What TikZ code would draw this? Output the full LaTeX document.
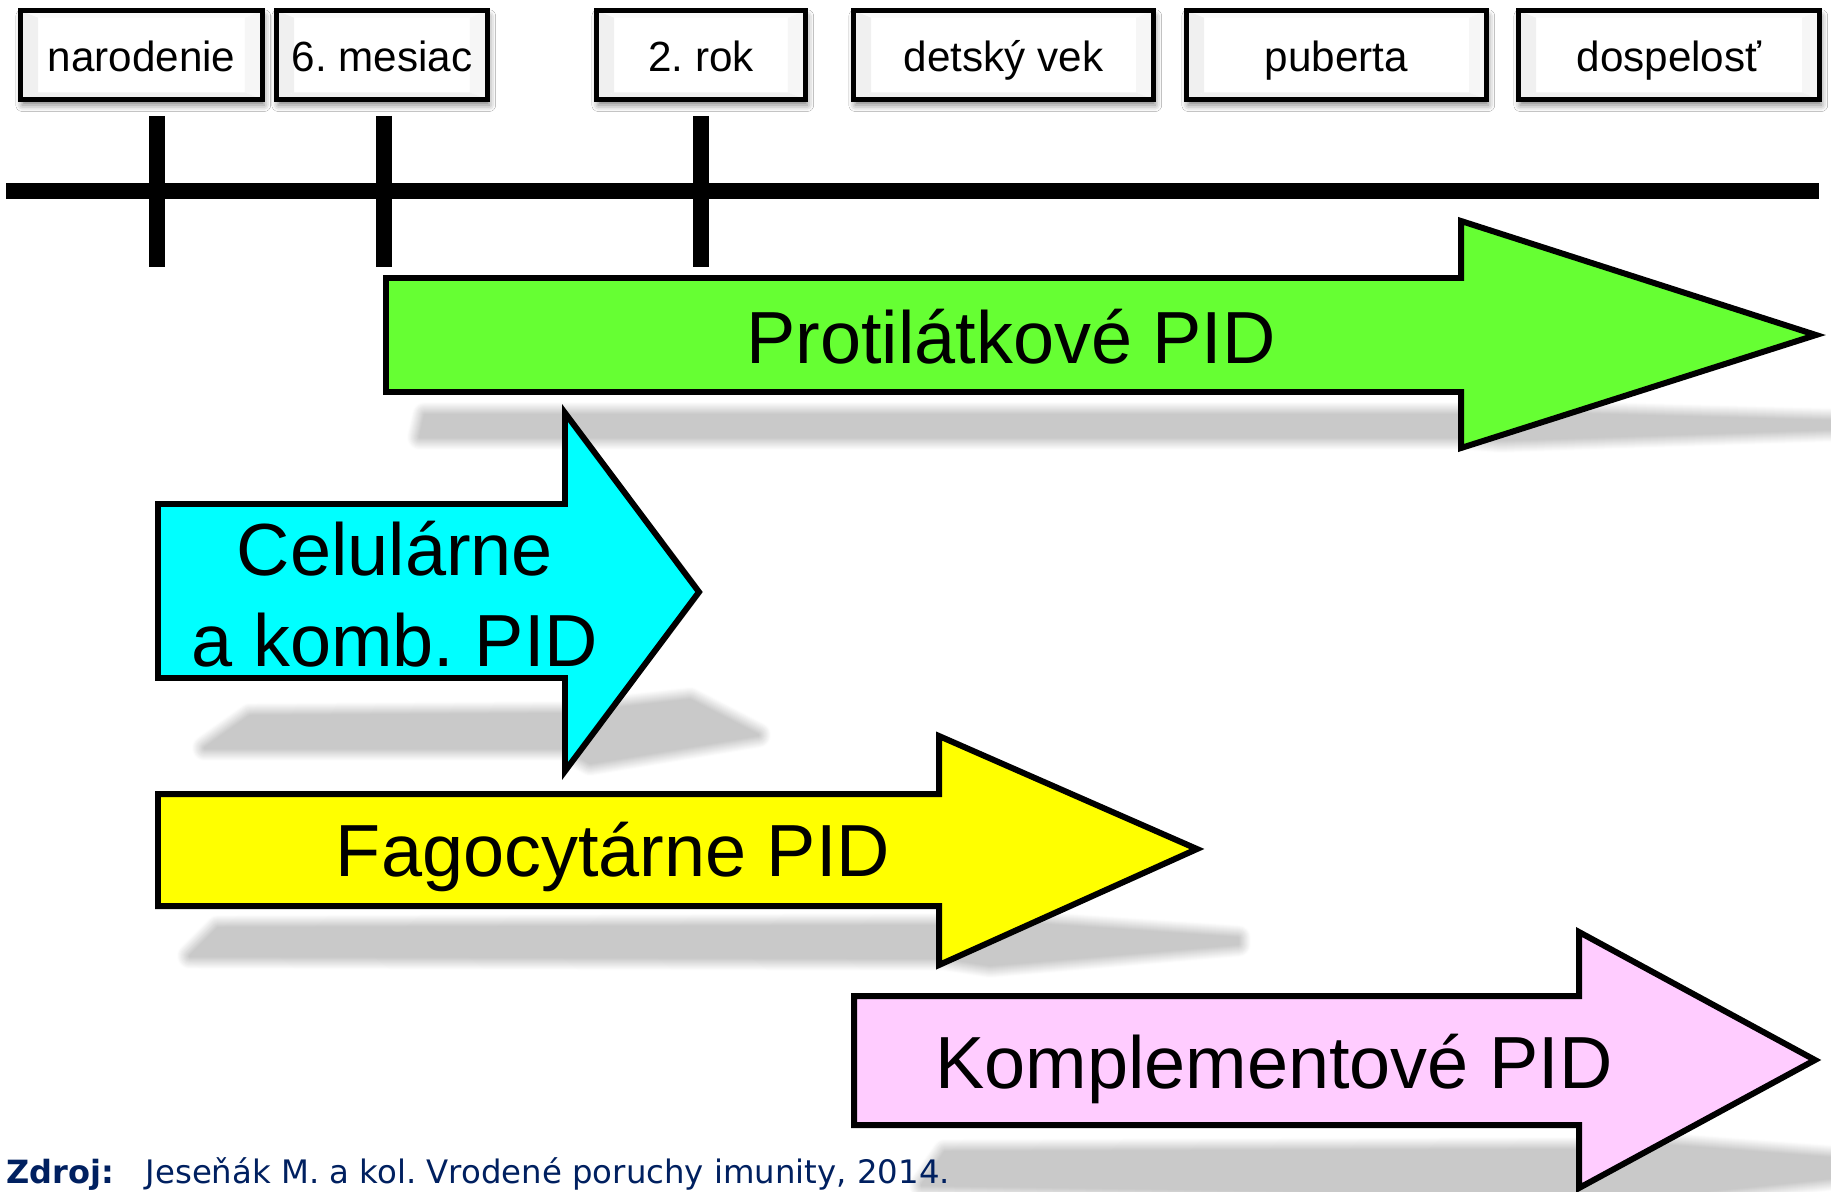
\documentclass[tikz,border=0pt]{standalone}
\usepackage{fontspec}
\setmainfont{Liberation Sans}
\newfontfamily\zdrojfont{DejaVu Sans}
\usetikzlibrary{shadows.blur,positioning}
\frenchspacing

\definecolor{protiGreen}{HTML}{66FF33}
\definecolor{celCyan}{HTML}{00FFFF}
\definecolor{fagoYellow}{HTML}{FFFF00}
\definecolor{komplPink}{HTML}{FFCCFF}
\definecolor{zdrojBlue}{HTML}{002060}

\tikzset{
  agebox/.style={draw=black, line width=1.4pt, fill=white, minimum height=0.89cm, inner sep=0pt,
    font=\fontsize{12}{14}\selectfont, text height=1.05em, text depth=0.1em,
    blur shadow={shadow xshift=0.5pt, shadow yshift=-1.6pt, shadow blur radius=1.8pt, shadow opacity=50},
    path picture={
      \fill[gray!12] (path picture bounding box.south west) -- ++(5pt,2pt) |- ([shift={(5pt,-2pt)}]path picture bounding box.north west) -- (path picture bounding box.north west) -- cycle;
      \fill[gray!7] (path picture bounding box.south east) -- ++(-5pt,2pt) |- ([shift={(-5pt,-2pt)}]path picture bounding box.north east) -- (path picture bounding box.north east) -- cycle;
      \fill[gray!4] (path picture bounding box.north west) -- ++(5pt,-2pt) -| ([shift={(-5pt,-2pt)}]path picture bounding box.north east) -- (path picture bounding box.north east) -- cycle;
      \fill[gray!12] (path picture bounding box.south west) -- ++(5pt,2pt) -| ([shift={(-5pt,2pt)}]path picture bounding box.south east) -- (path picture bounding box.south east) -- cycle;
    }},
  osline/.style={line width=4.5pt},
  tickmark/.style={line width=4.6pt},
  pidarrow/.style={draw=black, line width=1.7pt, line join=miter},
  pidtext/.style={font=\fontsize{21}{25.8}\selectfont, align=center, inner sep=0pt},
  zdrojtext/.style={anchor=base west, inner sep=0pt, text=zdrojBlue, font=\fontsize{9.2}{11}\zdrojfont}
}

% soft shadow on the floor under an arrow
\newcommand\floorshadow[1]{%
  \foreach \w [evaluate=\w as \c using 23-0.85*\w] in {26,24,...,2}
    \draw[black!\c, line width=\w*0.2834pt, line join=round] #1;
  \fill[black!21] #1;
}

\begin{document}
\begin{tikzpicture}[x=0.01cm,y=-0.01cm]
\fill[white] (0,0) rectangle (1831,1191);
\useasboundingbox (0,0) rectangle (1831,1191);

% age labels
\node[agebox, minimum width=2.42cm] (narodenie) at (141.5,55) {narodenie};
\node[agebox, minimum width=2.11cm] (mesiac) at (382,55) {6. mesiac};
\node[agebox, minimum width=2.09cm] (rok) at (701,55) {2. rok};
\node[agebox, minimum width=3.00cm] (detsky) at (1003.5,55) {detský vek};
\node[agebox, minimum width=3.00cm] (puberta) at (1336.5,55) {puberta};
\node[agebox, minimum width=3.01cm] (dospelost) at (1669,55) {dospelosť};

% time axis
\coordinate (osL) at (6,191);
\coordinate (osR) at (1819,191);
\draw[osline] (osL) -- (osR);
\draw[tickmark] (157,116) -- (157,267);
\draw[tickmark] (384,116) -- (384,267);
\draw[tickmark] (701,116) -- (701,267);

% shadows
\floorshadow{(425,415) -- (1462,415) -- (1500,412) -- (1831,421) -- (1831,429) -- (1500,440) -- (1462,437) -- (420,437) -- cycle}
\floorshadow{(205,748) -- (250,716) -- (565,714) -- (690,700) -- (758,735) -- (590,763) -- (565,748) -- cycle}
\floorshadow{(190,956) -- (218,928) -- (945,926) -- (990,921) -- (1238,938) -- (1238,944) -- (990,965) -- (945,958) -- cycle}
\floorshadow{(922,1185) -- (945,1152) -- (1580,1150) -- (1620,1142) -- (1831,1158) -- (1831,1178) -- (1620,1200) -- (1580,1195) -- cycle}

% arrows
\draw[pidarrow, fill=protiGreen] (386,278) -- (1461,278) -- (1461,221) -- (1816,335) -- (1461,448) -- (1461,392) -- (386,392) -- cycle;
\draw[pidarrow, fill=celCyan] (158,504) -- (565,504) -- (565,413) -- (699,592) -- (565,771) -- (565,678) -- (158,678) -- cycle;
\draw[pidarrow, fill=fagoYellow] (158,794) -- (939,794) -- (939,736) -- (1197,849) -- (939,965) -- (939,906) -- (158,906) -- cycle;
\draw[pidarrow, fill=komplPink] (854,996) -- (1579,996) -- (1579,932) -- (1815,1060) -- (1579,1188) -- (1579,1125) -- (854,1125) -- cycle;

\node[pidtext, anchor=base] (proti) at (1011,363) {Protilátkové PID};
\node[pidtext] (celul) at (395,594) {Celulárne\\a komb. PID};
\node[pidtext, anchor=base] (fago) at (613,876) {Fagocytárne PID};
\node[pidtext, anchor=base] (kompl) at (1274,1088) {Komplementové PID};

% source
\node[zdrojtext, font=\fontsize{9.1}{11}\zdrojfont\bfseries] (zdroj) at (6,1183) {Zdroj:};
\node[zdrojtext] (kniha) at (145,1183) {Jeseňák M. a kol. Vrodené poruchy imunity, 2014.};
\end{tikzpicture}
\end{document}
